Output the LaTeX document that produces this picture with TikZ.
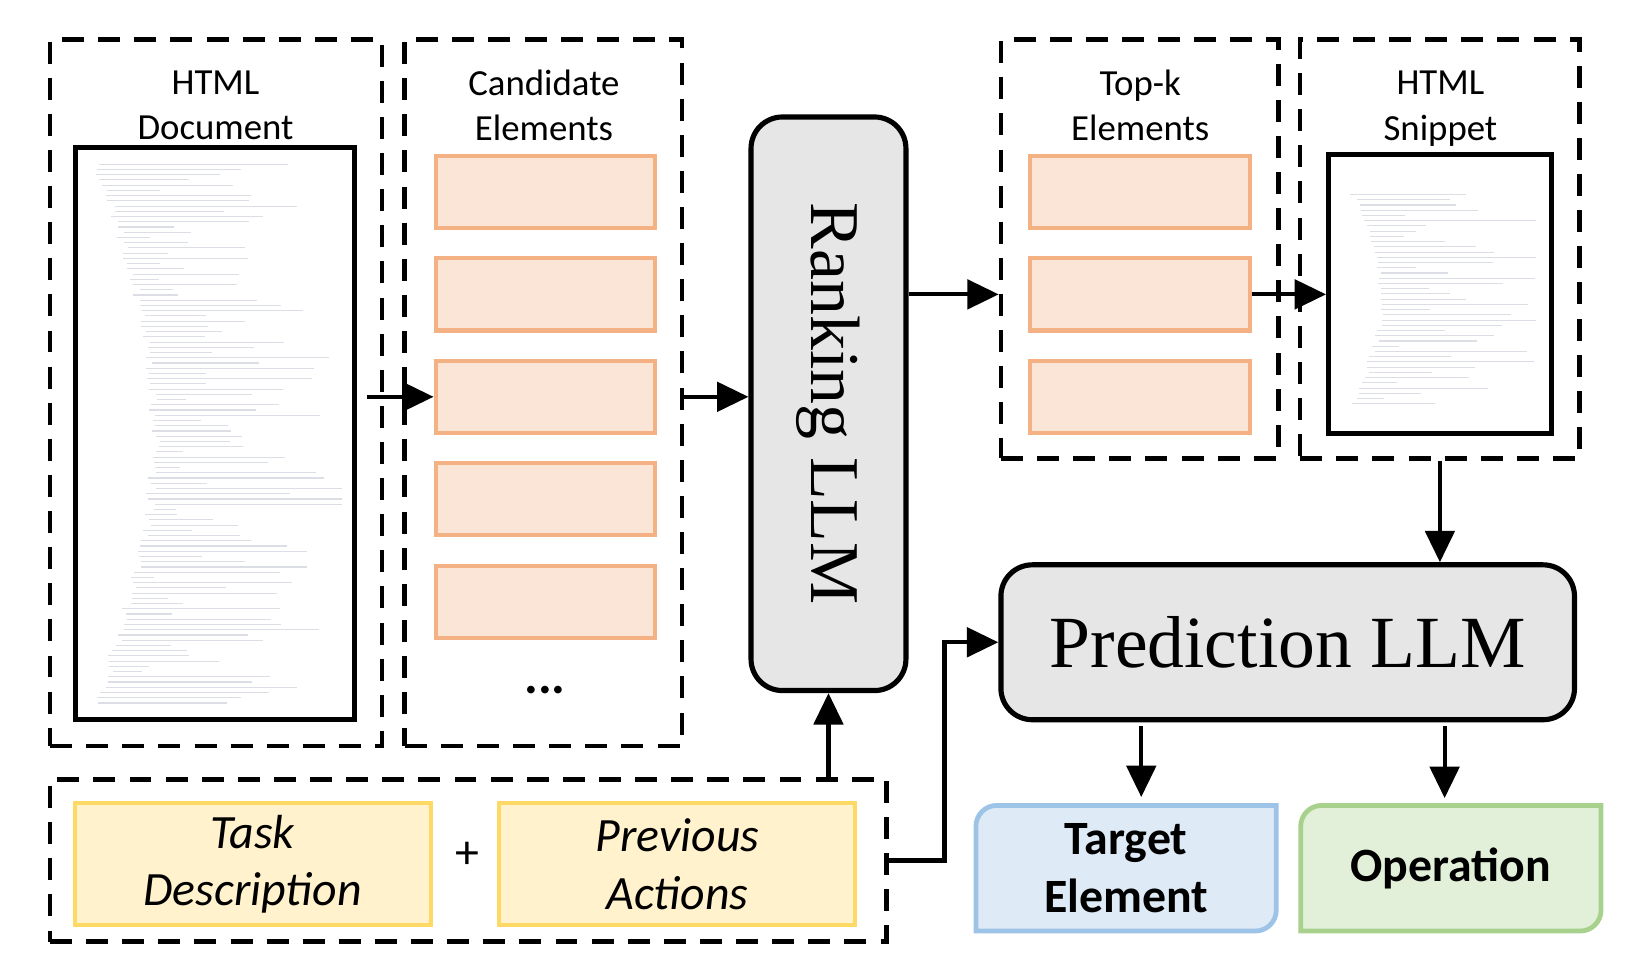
\documentclass[tikz,border=0pt]{standalone}
\usepackage{fontspec}
\setmainfont{Carlito}
\newfontfamily\llmfont{Liberation Serif}
\usetikzlibrary{arrows.meta,chains,positioning}
\pgfdeclarelayer{bg}
\pgfsetlayers{bg,main}
\definecolor{elemfill}{HTML}{FBE5D6}
\definecolor{elemdraw}{HTML}{F4B183}
\definecolor{inpfill}{HTML}{FFF2CC}
\definecolor{inpdraw}{HTML}{FFD966}
\definecolor{tgtfill}{HTML}{DEEBF7}
\definecolor{tgtdraw}{HTML}{9DC3E6}
\definecolor{opfill}{HTML}{E2F0D9}
\definecolor{opdraw}{HTML}{A9D18E}
\definecolor{llmfill}{HTML}{E6E6E6}
\definecolor{codegray}{HTML}{DCDEE6}

\begin{document}
\begin{tikzpicture}[x=0.01cm, y=-0.01cm, >={Triangle[length=0.3cm,width=0.28cm]},
    dashbox/.style={draw, line width=1.25pt, dash pattern=on 0.21cm off 0.135cm},
    doc/.style={draw, line width=1.3pt, fill=white},
    elem/.style={draw=elemdraw, fill=elemfill, line width=1.1pt,
      minimum width=2.1cm, minimum height=0.69cm},
    inp/.style={draw=inpdraw, fill=inpfill, line width=1.1pt, align=center,
      minimum width=3.4cm, minimum height=1.17cm,
      font=\itshape\fontsize{13}{15.6}\selectfont},
    outp/.style={outer sep=0pt, minimum width=2.87cm, minimum height=1.2cm,
      align=center, font=\bfseries\fontsize{13}{15.6}\selectfont},
    llm/.style={draw, line width=1.4pt, fill=llmfill, rounded corners=0.3cm},
    lbl/.style={align=center, font=\fontsize{10}{12.3}\selectfont},
    code/.style={draw=codegray, line width=0.3pt},
    arr/.style={->, line width=1.15pt}]
  \useasboundingbox (0,0) rectangle (1563,931);

  % HTML document
  \node[dashbox, minimum width=3.17cm, minimum height=6.75cm] (docbox) at (206.5,375.5) {};
  \node[doc, minimum width=2.67cm, minimum height=5.47cm] (doc) at (205.5,414.5) {};
  \node[lbl] (doclbl) at (206,101) {HTML\\Document};
  \pgfmathsetseed{11}
  \foreach \i in {0,...,103}{
    \pgfmathsetmacro\indc{6+55*sin(\i/103*180)+10*rnd}
    \pgfmathsetmacro\lenc{min(20+170*rnd,245-\indc)}
    \draw[code] (82+\indc,157+5*\i) -- ++(\lenc,0);
  }

  % candidate elements
  \node[dashbox, minimum width=2.65cm, minimum height=6.75cm] (candbox) at (519.5,375.5) {};
  \node[lbl] (candlbl) at (520,101) {Candidate\\Elements};
  \begin{scope}[start chain=going below, node distance=0.25cm]
    \node[elem, on chain] (c1) at (521.5,183.5) {};
    \node[elem, on chain] (c2) {};
    \node[elem, on chain] (c3) {};
    \node[elem, on chain] (c4) {};
    \node[elem, on chain] (c5) {};
  \end{scope}
  \node[font=\bfseries\fontsize{14}{16}\selectfont] (dots) at (521,660) {...};

  % ranking model
  \node[llm, rotate=-90, minimum width=5.48cm, minimum height=1.48cm,
    font=\llmfont\fontsize{19}{22}\selectfont] (rank) at (792,386) {Ranking LLM};

  % top-k elements
  \node[dashbox, minimum width=2.65cm, minimum height=4cm] (topbox) at (1089.5,238) {};
  \node[lbl] (toplbl) at (1090,101) {Top-k\\Elements};
  \begin{scope}[start chain=going below, node distance=0.25cm]
    \node[elem, on chain] (t1) at (1089.5,183.5) {};
    \node[elem, on chain] (t2) {};
    \node[elem, on chain] (t3) {};
  \end{scope}

  % HTML snippet
  \node[dashbox, minimum width=2.67cm, minimum height=4cm] (snipbox) at (1376.5,238) {};
  \node[lbl] (sniplbl) at (1377,104) {HTML\\Snippet};
  \node[doc, minimum width=2.13cm, minimum height=2.66cm] (snip) at (1376.5,281) {};
  \foreach \i in {0,...,40}{
    \pgfmathsetmacro\indc{4+28*sin(\i/40*180)+6*rnd}
    \pgfmathsetmacro\lenc{min(25+150*rnd,182-\indc)}
    \draw[code] (1286+\indc,186+5*\i) -- ++(\lenc,0);
  }

  % prediction model
  \node[llm, minimum width=5.48cm, minimum height=1.48cm,
    font=\llmfont\fontsize{20}{24}\selectfont] (pred) at (1231,614) {Prediction LLM};

  % inputs
  \node[dashbox, minimum width=7.99cm, minimum height=1.55cm] (inbox) at (447.5,822.5) {};
  \node[inp] (task) at (241.5,826) {Task\\Description};
  \node[font=\fontsize{13}{15}\selectfont] (plus) at (447,818) {+};
  \node[inp] (prev) at (647.5,826) {Previous\\Actions};

  % outputs
  \node[outp] (target) at (1076.5,830) {Target\\Element};
  \node[outp] (oper) at (1387,830) {Operation};
  \begin{pgfonlayer}{bg}
    \foreach \n/\f/\d in {target/tgtfill/tgtdraw, oper/opfill/opdraw}
      \draw[line width=1.3pt, draw=\d, fill=\f] (\n.south west)
        -- ([yshift=-0.2cm]\n.north west) to[out=90,in=180] ([xshift=0.2cm]\n.north west)
        -- (\n.north east) -- ([yshift=0.2cm]\n.south east)
        to[out=-90,in=0] ([xshift=-0.2cm]\n.south east) -- cycle;
  \end{pgfonlayer}

  \coordinate (bend) at (903,822.5);
  \draw[arr, shorten <=0.09cm] (doc.east |- c3) -- (c3.west);
  \draw[arr] (candbox.east |- c3) -- (rank.south |- c3);
  \draw[arr] (rank.north |- t2) -- (topbox.west |- t2);
  \draw[arr] (t2.east) -- (snip.west |- t2);
  \draw[arr] (snipbox.south) -- (snipbox.south |- pred.north);
  \draw[arr] (inbox.north -| rank.center) -- (rank.east);
  \draw[arr] (inbox.east) -- (bend) |- (pred.west);
  \draw[arr, shorten <=0.04cm, shorten >=0.08cm] ([xshift=0.145cm]target.north |- pred.south) -- ([xshift=0.145cm]target.north);
  \draw[arr, shorten <=0.04cm, shorten >=0.07cm] ([xshift=-0.06cm]oper.north |- pred.south) -- ([xshift=-0.06cm]oper.north);
\end{tikzpicture}
\end{document}
